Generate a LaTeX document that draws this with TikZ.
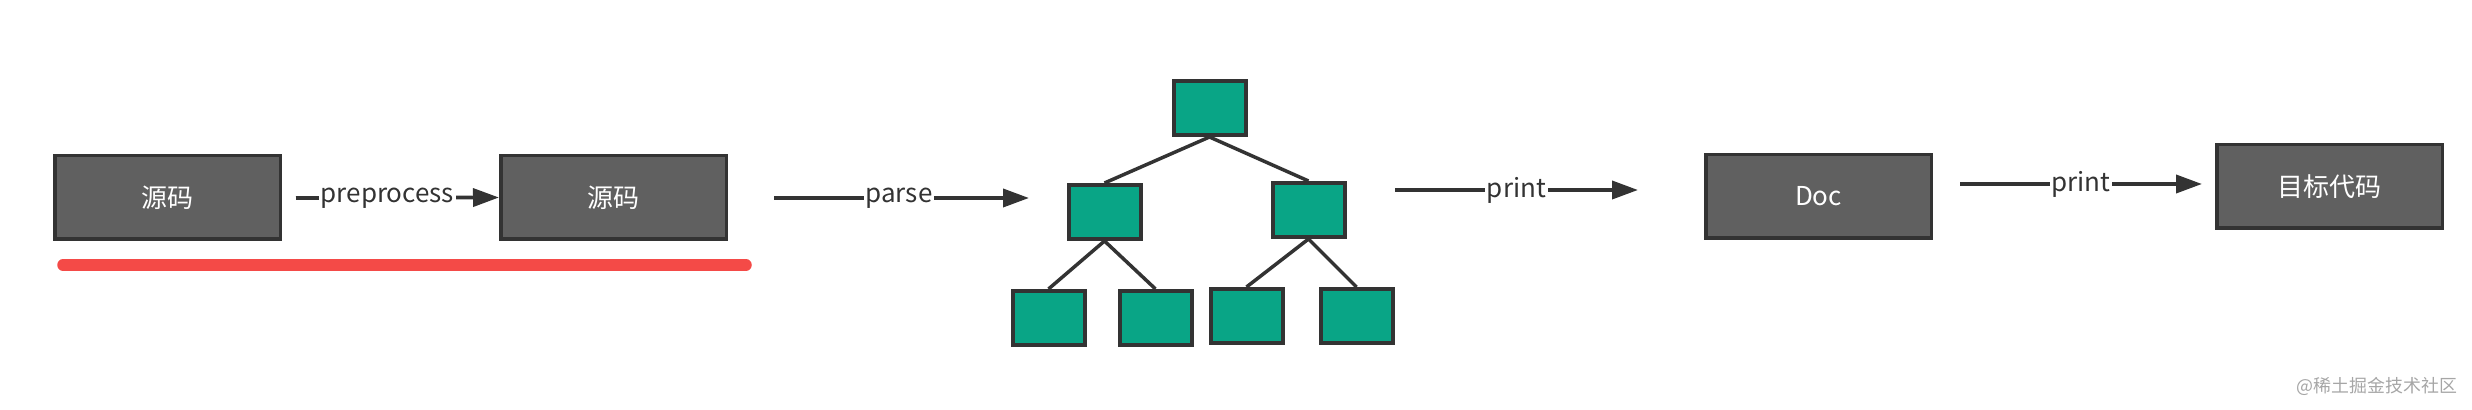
\documentclass[tikz,border=0pt]{standalone}
\usepackage{fontspec}
\setmainfont{Noto Sans CJK SC}
\usetikzlibrary{positioning}
\usetikzlibrary{arrows.meta}
\definecolor{boxgray}{HTML}{606060}
\definecolor{linegray}{HTML}{333333}
\definecolor{treegreen}{HTML}{09A586}
\definecolor{markred}{HTML}{F44A47}
\tikzset{box/.style={draw=linegray,fill=boxgray,line width=0.07cm,minimum width=4.51cm,minimum height=1.67cm,text=white,font=\fontsize{14.8}{16}\selectfont}}
\tikzset{leaf/.style={draw=linegray,fill=treegreen,line width=0.08cm,minimum width=1.44cm,minimum height=1.08cm}}
\tikzset{flow/.style={draw=linegray,line width=0.075cm,-{Triangle[length=0.52cm,width=0.36cm]}}}
\tikzset{tag/.style={fill=white,inner xsep=1pt,inner ysep=0pt,text=linegray,font=\fontsize{14.8}{16}\selectfont}}
\tikzset{edge/.style={draw=linegray,line width=0.07cm}}

\begin{document}
\begin{tikzpicture}
      \useasboundingbox (0,0) rectangle (49.44,8.2);

      \node[box] (src) at (3.35,4.25) {源码};
      \node[box, right=4.34cm of src] (pre) {源码};
      \coordinate (p0) at (5.92,4.24);

      \draw[markred, line width=0.23cm, line cap=round] (1.26,2.9) -- (14.92,2.9);

      \coordinate (a0) at (15.48,4.24);
      \coordinate (a1) at (20.58,4.24);

      \node[leaf] (root) at (24.19,6.04) {};
      \node[leaf, below left =0.92cm and 0.58cm of root] (l1) {};
      \node[leaf, below right=0.88cm and 0.46cm of root] (r1) {};
      \node[leaf] (l2) at (20.97,1.84) {};
      \node[leaf, right=0.62cm of l2] (l3) {};
      \node[leaf, right=0.30cm of l3, yshift=0.04cm] (r2) {};
      \node[leaf, right=0.68cm of r2] (r3) {};

      \coordinate (b0) at (27.90,4.40);
      \coordinate (b1) at (32.76,4.40);

      \node[box] (doc) at (36.37,4.27) {Doc};
      \node[box] (out) at (46.59,4.47) {目标代码};
      \coordinate (c0) at (39.20,4.52);
      \coordinate (c1) at (44.04,4.52);

      \draw[flow] (p0) -- node[tag, pos=0.45] {preprocess} (pre.west);
      \draw[flow] (a0) -- node[tag, pos=0.49] {parse} (a1);
      \draw[flow] (b0) -- node[tag] {print} (b1);
      \draw[flow] (c0) -- node[tag] {print} (c1);

      \draw[edge] (root.south) -- (l1.north);
      \draw[edge] (root.south) -- (r1.north);
      \draw[edge] (l1.south) -- (l2.north);
      \draw[edge] (l1.south) -- (l3.north);
      \draw[edge] (r1.south) -- (r2.north);
      \draw[edge] (r1.south) -- (r3.north);

      \node[text=black!35, font=\fontsize{10.2}{12}\selectfont] (mark) at (47.54,0.48) {@稀土掘金技术社区};
   \end{tikzpicture}
\end{document}
